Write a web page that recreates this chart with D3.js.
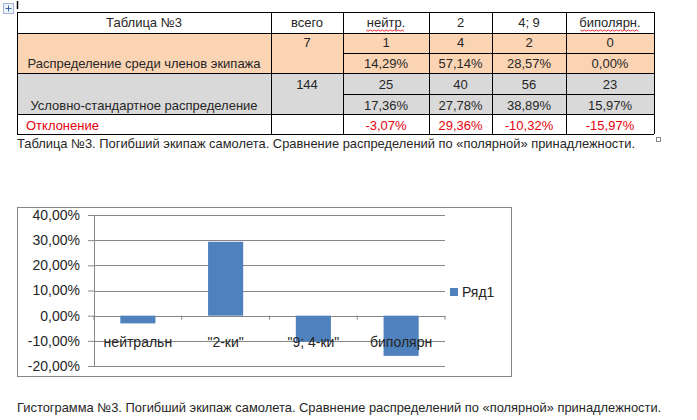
<!DOCTYPE html>
<html lang="ru">
  <head>
    <meta charset="utf-8">
    <title>Таблица №3</title>
    <script src="https://cdnjs.cloudflare.com/ajax/libs/d3/7.8.5/d3.min.js"></script>
    <style>
      body { margin: 0; background: #fff; }
      svg text { font-family: "Liberation Sans", Arial, sans-serif; fill: #262626; }
    </style>
  </head>
  <body>
    <div id="chart"></div>
    <script type="text/javascript">
      // table data
      const headerCells = ["Таблица №3", "всего", "нейтр.", "2", "4; 9", "биполярн."];
      const crewLabel = "Распределение среди членов экипажа";
      const crewTotal = 7;
      const crewCounts = [1, 4, 2, 0];
      const crewShares = [0.1429, 0.5714, 0.2857, 0.0];
      const stdLabel = "Условно-стандартное распределение";
      const stdTotal = 144;
      const stdCounts = [25, 40, 56, 23];
      const stdShares = [0.1736, 0.2778, 0.3889, 0.1597];
      const devLabel = "Отклонение";
      const deviations = [-0.0307, 0.2936, -0.1032, -0.1597];

      // chart data
      const categories = ["нейтральн", "\"2-ки\"", "\"9; 4-ки\"", "биполярн"];
      const seriesName = "Ряд1";
      const yTicks = [-0.2, -0.1, 0, 0.1, 0.2, 0.3, 0.4];

      const caption1 = "Таблица №3. Погибший экипаж самолета. Сравнение распределений по «полярной» принадлежности.";
      const caption2 = "Гистограмма №3. Погибший экипаж самолета. Сравнение распределений по «полярной» принадлежности.";

      const ru = d3.formatLocale({decimal: ",", thousands: " ", grouping: [3], currency: ["", ""], minus: "-"});
      const pct = ru.format(".2%");

      const svg = d3.select("#chart").append("svg")
        .attr("width", 697)
        .attr("height", 420);

      // ---- table ----
      const colX = [17, 271, 343, 429, 492, 566, 654];
      const rowY = [12, 33, 73, 114, 134];
      const colMid = (i) => (colX[i] + colX[i + 1]) / 2;

      svg.append("rect").attr("x", 17).attr("y", 33).attr("width", 637).attr("height", 40).attr("fill", "#fbd4b4");
      svg.append("rect").attr("x", 17).attr("y", 73).attr("width", 637).attr("height", 41).attr("fill", "#d9d9d9");

      let grid = svg.append("g").attr("stroke", "#000").attr("stroke-width", 1).attr("shape-rendering", "crispEdges");
      rowY.forEach((y) => grid.append("line").attr("x1", 17).attr("x2", 654).attr("y1", y).attr("y2", y));
      colX.forEach((x) => grid.append("line").attr("x1", x).attr("x2", x).attr("y1", 12).attr("y2", 134));
      [53, 94].forEach((y) => grid.append("line").attr("x1", 343).attr("x2", 654).attr("y1", y).attr("y2", y));

      let cell = function(txt, x, y, anchor, color) {
        svg.append("text")
          .attr("x", x).attr("y", y)
          .attr("text-anchor", anchor || "middle")
          .style("font-size", "13px")
          .style("fill", color || "#262626")
          .text(txt);
      };

      headerCells.forEach((h, i) => cell(h, colMid(i), 27));
      cell(crewLabel, colMid(0), 68);
      cell(crewTotal, colMid(1), 47);
      crewCounts.forEach((v, i) => cell(v, colMid(i + 2), 47));
      crewShares.forEach((v, i) => cell(pct(v), colMid(i + 2), 68));
      cell(stdLabel, colMid(0), 110);
      cell(stdTotal, colMid(1), 89);
      stdCounts.forEach((v, i) => cell(v, colMid(i + 2), 89));
      stdShares.forEach((v, i) => cell(pct(v), colMid(i + 2), 110));
      cell(devLabel, 26, 130, "start", "#e8000b");
      deviations.forEach((v, i) => cell(pct(v), colMid(i + 2), 130, "middle", "#e8000b"));

      // spell-check squiggles under two header words
      [2, 5].forEach(function(i) {
        let w = headerCells[i].length * 6.6;
        let x0 = colMid(i) - w / 2, pts = [];
        for (let k = 0; k <= w / 2; k++) pts.push([x0 + k * 2, 30 + (k % 2 ? 1.2 : 0)]);
        svg.append("path").attr("d", d3.line()(pts)).attr("fill", "none").attr("stroke", "#e00").attr("stroke-width", 0.8);
      });

      // word move handle, cursor and resize handle
      svg.append("rect").attr("x", 3.5).attr("y", 3.5).attr("width", 10).attr("height", 10)
        .attr("fill", "#eef3fa").attr("stroke", "#9fb4d4");
      svg.append("path").attr("d", "M8.5 5.5V11.5M5.5 8.5H11.5").attr("stroke", "#3a66a8").attr("stroke-width", 1);
      svg.append("line").attr("x1", 17.5).attr("x2", 17.5).attr("y1", 1).attr("y2", 9).attr("stroke", "#000").attr("stroke-width", 1.5);
      svg.append("rect").attr("x", 656.5).attr("y", 137.5).attr("width", 4).attr("height", 4)
        .attr("fill", "#fff").attr("stroke", "#888");

      svg.append("text").attr("x", 17).attr("y", 148).style("font-size", "12.9px").text(caption1);

      // ---- chart ----
      svg.append("rect").attr("x", 17.5).attr("y", 207.5).attr("width", 494).attr("height", 169)
        .attr("fill", "#fff").attr("stroke", "#868686");

      let x = d3.scaleBand().domain(categories).range([94, 445]).paddingInner(0.6).paddingOuter(0.3);
      let band = d3.scaleBand().domain(categories).range([94, 445]);
      let y = d3.scaleLinear().domain([-0.2, 0.4]).range([366, 215]);

      let yAxis = d3.axisLeft(y).tickValues(yTicks).tickFormat(pct).tickSize(6).tickPadding(8);
      let gy = svg.append("g").attr("transform", "translate(94,0)").call(yAxis);
      gy.select(".domain").attr("stroke", "#868686");
      gy.selectAll(".tick line").attr("stroke", "#868686");
      gy.selectAll(".tick text").style("font-size", "14px").style("font-family", "Liberation Sans, Arial, sans-serif").attr("fill", "#262626");

      // horizontal gridlines
      svg.append("g").selectAll("line").data(yTicks).enter().append("line")
        .attr("x1", 94).attr("x2", 445)
        .attr("y1", (d) => Math.round(y(d)) + 0.5).attr("y2", (d) => Math.round(y(d)) + 0.5)
        .attr("stroke", "#868686");

      // bars
      svg.append("g").selectAll("rect").data(deviations).enter().append("rect")
        .attr("x", (d, i) => x(categories[i]))
        .attr("width", x.bandwidth())
        .attr("y", (d) => y(Math.max(0, d)))
        .attr("height", (d) => Math.abs(y(d) - y(0)))
        .attr("fill", "#4f81bd");

      // category axis ticks at band edges
      let edges = categories.map((c) => band(c)).concat([445]);
      svg.append("g").selectAll("line").data(edges).enter().append("line")
        .attr("x1", (d) => d).attr("x2", (d) => d)
        .attr("y1", y(0)).attr("y2", y(0) + 4)
        .attr("stroke", "#868686");

      // category labels drawn over bars
      svg.append("g").selectAll("text").data(categories).enter().append("text")
        .attr("x", (d) => band(d) + band.bandwidth() / 2)
        .attr("y", 347)
        .attr("text-anchor", "middle")
        .style("font-size", "14px")
        .text((d) => d);

      // legend
      svg.append("rect").attr("x", 450).attr("y", 288).attr("width", 8).attr("height", 8).attr("fill", "#4f81bd");
      svg.append("text").attr("x", 462).attr("y", 297).style("font-size", "14px").text(seriesName);

      svg.append("text").attr("x", 17).attr("y", 412).style("font-size", "12.9px").text(caption2);
    </script>
  </body>
</html>
